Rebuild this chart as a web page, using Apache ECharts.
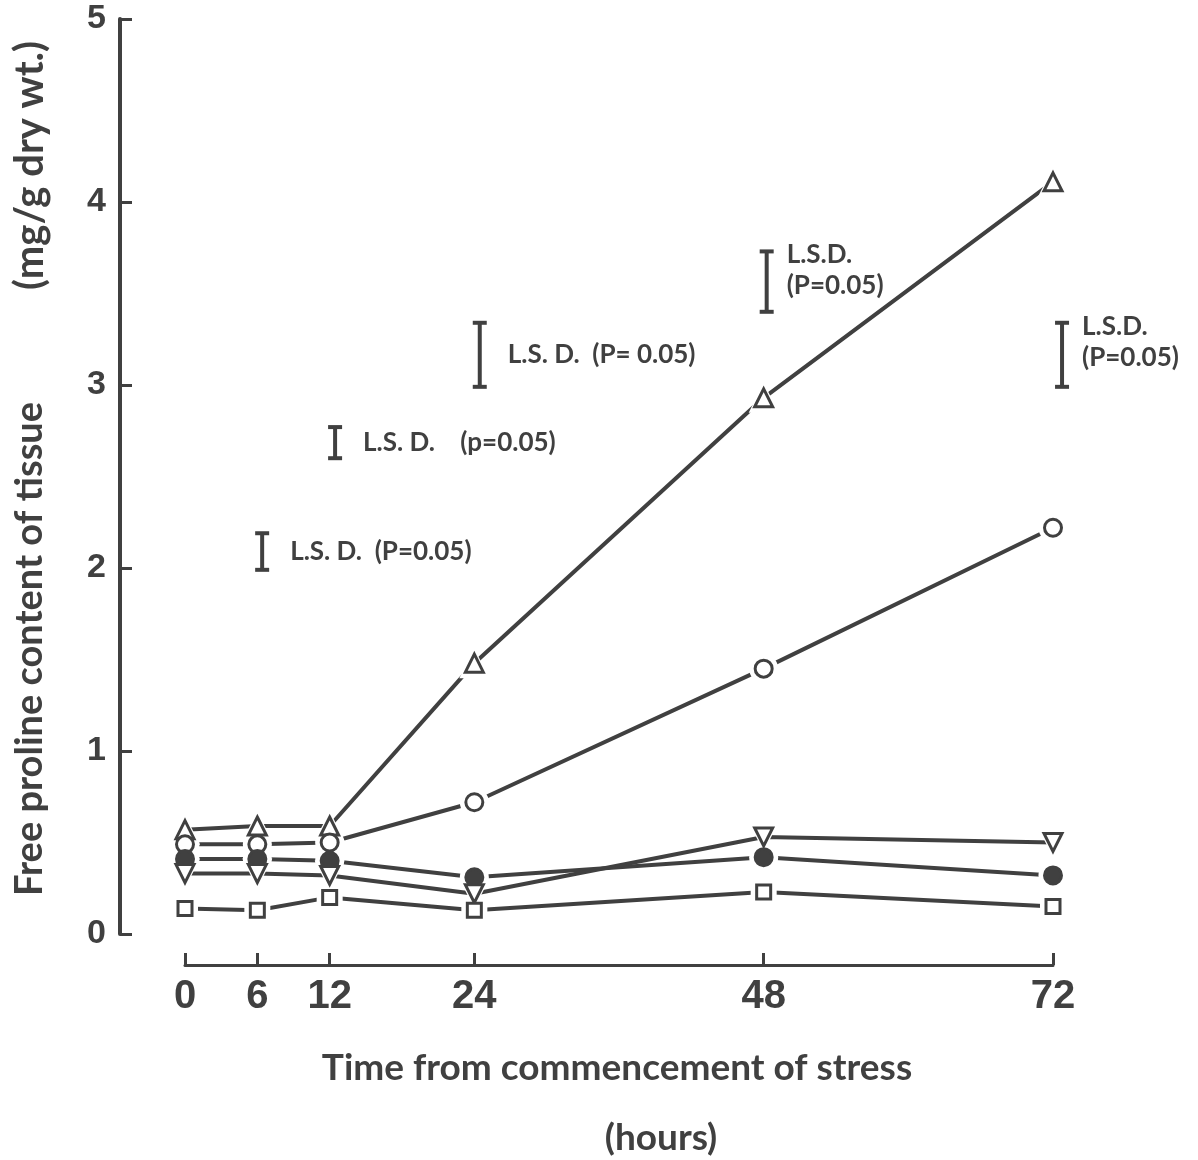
<!DOCTYPE html>
<html><head><meta charset="utf-8">
<script src="https://cdn.jsdelivr.net/npm/echarts@6/dist/echarts.min.js"></script>
<style>html,body{margin:0;padding:0;background:#fff}#c{width:1198px;height:1160px}</style>
</head><body><div id="c"></div>
<script>
// ---- data ----
var hours = [0, 6, 12, 24, 48, 72];
var xTicks = [0, 6, 12, 24, 48, 72];
var yTicks = [0, 1, 2, 3, 4, 5];
var triUp = [0.57, 0.59, 0.59, 1.48, 2.93, 4.11];
var circOpen = [0.49, 0.49, 0.50, 0.72, 1.45, 2.22];
var circFilled = [0.41, 0.41, 0.40, 0.31, 0.42, 0.32];
var triDown = [0.33, 0.33, 0.32, 0.22, 0.53, 0.50];
var squareS = [0.14, 0.13, 0.20, 0.13, 0.23, 0.15];
var lsdX = [6.4, 12.45, 24.45, 48.25, 72.75];
var lsdLow = [1.99, 2.60, 2.99, 3.40, 2.99];
var lsdHigh = [2.19, 2.77, 3.34, 3.73, 3.34];
var lsdLabels = ['L.S. D.  (P=0.05)', 'L.S. D.    (p=0.05)', 'L.S. D.  (P= 0.05)', 'L.S.D.\n(P=0.05)', 'L.S.D.\n(P=0.05)'];
var yTitleMain = 'Free proline content of tissue';
var yTitleUnit = '(mg/g dry wt.)';
var xTitleMain = 'Time from commencement of stress';
var xTitleUnit = '(hours)';

var INK = '#404040';
function pts(vals) { return hours.map(function (h, i) { return [h, vals[i]]; }); }

var seriesDefs = [
  { vals: triUp, symbol: 'triangle', size: 18, fill: '#fff' },
  { vals: circOpen, symbol: 'circle', size: 17, fill: '#fff' },
  { vals: circFilled, symbol: 'circle', size: 17, fill: INK },
  { vals: triDown, symbol: 'path://M0,0L10,0L5,9Z', size: 18, fill: '#fff' },
  { vals: squareS, symbol: 'rect', size: 14, fill: '#fff' }
];

var series = [];
seriesDefs.forEach(function (d) {
  series.push({ type: 'line', data: pts(d.vals), symbol: 'none', lineStyle: { color: INK, width: 4 }, z: 2, silent: true });
});
seriesDefs.forEach(function (d) {
  series.push({ type: 'scatter', data: pts(d.vals), symbol: d.symbol, symbolSize: d.size + 12,
    itemStyle: { color: '#fff', opacity: 1 }, z: 3, silent: true });
});
seriesDefs.forEach(function (d) {
  series.push({ type: 'scatter', data: pts(d.vals), symbol: d.symbol, symbolSize: d.size,
    itemStyle: { color: d.fill, borderColor: INK, borderWidth: 3, opacity: 1 }, z: 4, silent: true });
});
series.push({
  type: 'custom', z: 5, silent: true, clip: false,
  data: lsdX.map(function (x, i) { return [x, lsdLow[i], lsdHigh[i]]; }),
  renderItem: function (params, api) {
    var x = api.value(0), lo = api.value(1), hi = api.value(2);
    var top = api.coord([x, hi]), bot = api.coord([x, lo]);
    var cap = 7;
    var label = lsdLabels[params.dataIndex];
    var multi = label.indexOf('\n') >= 0;
    return {
      type: 'group',
      children: [
        { type: 'line', shape: { x1: top[0], y1: top[1], x2: bot[0], y2: bot[1] }, style: { stroke: INK, lineWidth: 4 } },
        { type: 'line', shape: { x1: top[0] - cap, y1: top[1], x2: top[0] + cap, y2: top[1] }, style: { stroke: INK, lineWidth: 4 } },
        { type: 'line', shape: { x1: bot[0] - cap, y1: bot[1], x2: bot[0] + cap, y2: bot[1] }, style: { stroke: INK, lineWidth: 4 } },
        { type: 'text', x: top[0] + (multi ? 20 : 28), y: multi ? top[1] - 12 : (top[1] + bot[1]) / 2,
          style: { text: label, fill: INK, font: 'bold 26px Lato, sans-serif', lineHeight: 31,
            verticalAlign: multi ? 'top' : 'middle', align: 'left' } }
      ]
    };
  }
});

var chart = echarts.init(document.getElementById('c'));
chart.setOption({
  animation: false,
  backgroundColor: '#fff',
  grid: { left: 185, right: 145, top: 19, bottom: 226 },
  xAxis: {
    type: 'value', min: 0, max: 72, offset: 31,
    splitLine: { show: false },
    axisLine: { onZero: false, lineStyle: { color: INK, width: 3 } },
    axisTick: { inside: true, length: 12, customValues: xTicks, lineStyle: { color: INK, width: 3 } },
    axisLabel: { customValues: xTicks, color: INK, fontSize: 40, fontWeight: 'bold', fontFamily: 'Liberation Sans, Arial, sans-serif', margin: 12 }
  },
  yAxis: {
    type: 'value', min: 0, max: 5, interval: 1, offset: 65,
    splitLine: { show: false },
    axisLine: { show: true, onZero: false, lineStyle: { color: INK, width: 4 } },
    axisTick: { show: true, inside: true, length: 12, lineStyle: { color: INK, width: 3 } },
    axisLabel: { customValues: yTicks, color: INK, fontSize: 34, fontWeight: 'bold', fontFamily: 'Liberation Sans, Arial, sans-serif', margin: 14 }
  },
  graphic: [
    { type: 'text', x: 30, y: 896, rotation: Math.PI / 2,
      style: { text: yTitleMain, fill: INK, font: 'bold 38px Lato, sans-serif', align: 'left', verticalAlign: 'middle' } },
    { type: 'text', x: 30, y: 290, rotation: Math.PI / 2,
      style: { text: yTitleUnit, fill: INK, font: 'bold 40px Lato, sans-serif', align: 'left', verticalAlign: 'middle' } },
    { type: 'text', x: 617, y: 1068,
      style: { text: xTitleMain, fill: INK, font: 'bold 37px Lato, sans-serif', align: 'center', verticalAlign: 'middle' } },
    { type: 'text', x: 661, y: 1138,
      style: { text: xTitleUnit, fill: INK, font: 'bold 37px Lato, sans-serif', align: 'center', verticalAlign: 'middle' } }
  ],
  series: series
});
</script>
</body></html>
